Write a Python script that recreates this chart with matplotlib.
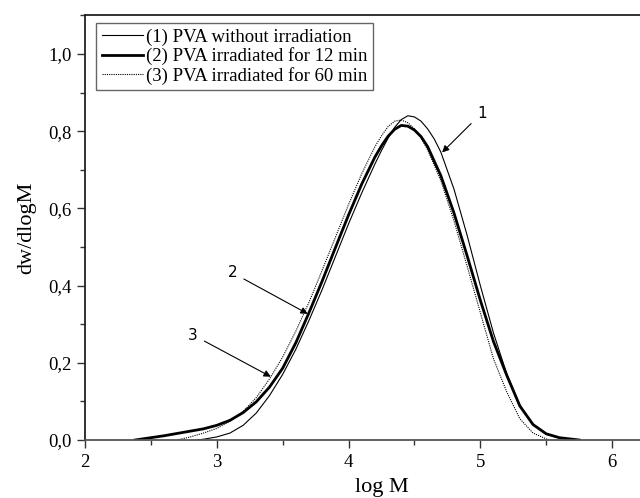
import matplotlib
matplotlib.use('Agg')
import matplotlib.pyplot as plt
from matplotlib.ticker import MultipleLocator, FuncFormatter

# ---- data (log M vs dw/dlogM) ----

# (1) PVA without irradiation
logm_1 = [2.85, 2.9, 3.0, 3.1, 3.2, 3.3, 3.4, 3.5, 3.6, 3.7, 3.8, 3.9, 4.0, 4.1,
          4.2, 4.25, 4.3, 4.35, 4.4, 4.45, 4.5, 4.55, 4.6, 4.65, 4.7, 4.8,
          4.9, 5.0, 5.1, 5.2, 5.3, 5.4, 5.5, 5.6, 5.72]
dw_1 = [0.0, 0.002, 0.008, 0.018, 0.038, 0.070, 0.115, 0.170, 0.235, 0.310,
        0.390, 0.475, 0.560, 0.640, 0.715, 0.750, 0.782, 0.810, 0.830, 0.840,
        0.837, 0.826, 0.806, 0.780, 0.746, 0.650, 0.530, 0.400, 0.277, 0.172,
        0.090, 0.040, 0.015, 0.005, 0.0]

# (2) PVA irradiated for 12 min
logm_2 = [2.38, 2.5, 2.6, 2.7, 2.8, 2.9, 3.0, 3.1, 3.2, 3.3, 3.4, 3.5, 3.6,
          3.7, 3.8, 3.9, 4.0, 4.1, 4.2, 4.25, 4.3, 4.35, 4.4, 4.45, 4.5, 4.55,
          4.6, 4.7, 4.8, 4.9, 5.0, 5.1, 5.2, 5.3, 5.4, 5.5, 5.6, 5.75]
dw_2 = [0.0, 0.006, 0.011, 0.017, 0.023, 0.029, 0.038, 0.051, 0.071, 0.099,
        0.137, 0.186, 0.252, 0.330, 0.412, 0.498, 0.583, 0.663, 0.733, 0.762,
        0.787, 0.805, 0.815, 0.813, 0.803, 0.786, 0.760, 0.685, 0.588, 0.477,
        0.362, 0.255, 0.168, 0.088, 0.040, 0.016, 0.006, 0.0]

# (3) PVA irradiated for 60 min
logm_3 = [2.7, 2.8, 2.9, 3.0, 3.1, 3.2, 3.3, 3.4, 3.5, 3.6, 3.7, 3.8, 3.9,
          4.0, 4.1, 4.2, 4.25, 4.3, 4.35, 4.4, 4.45, 4.5, 4.55, 4.6, 4.7, 4.8,
          4.9, 5.0, 5.1, 5.2, 5.3, 5.4, 5.52]
dw_3 = [0.0, 0.008, 0.018, 0.030, 0.048, 0.074, 0.110, 0.158, 0.215, 0.282,
        0.357, 0.440, 0.525, 0.610, 0.690, 0.760, 0.788, 0.812, 0.826, 0.829,
        0.822, 0.806, 0.783, 0.752, 0.672, 0.568, 0.450, 0.330, 0.210, 0.125,
        0.055, 0.018, 0.0]

series_labels = ['(1) PVA without irradiation',
                 '(2) PVA irradiated for 12 min',
                 '(3) PVA irradiated for 60 min']

# arrow annotations: label, arrow tip, label centre (data units)
arrow_labels = ['1', '2', '3']
arrow_tips = [(4.71, 0.745), (3.69, 0.327), (3.41, 0.164)]
arrow_text = [(5.01, 0.847), (3.12, 0.433), (2.82, 0.272)]

plt.rcParams['font.family'] = ['Liberation Serif', 'DejaVu Serif']

fig = plt.figure(figsize=(6.4, 4.98), dpi=100)
ax = fig.add_axes([85 / 640, 1 - 440 / 498, 593 / 640, 424.6 / 498])

ax.plot(logm_1, dw_1, color='black', lw=0.8, label=series_labels[0])
ax.plot(logm_2, dw_2, color='black', lw=2.0, label=series_labels[1])
ax.plot(logm_3, dw_3, color='black', lw=0.8, ls=(0, (1, 1)),
        label=series_labels[2])

for lab, tip, txt in zip(arrow_labels, arrow_tips, arrow_text):
    ax.annotate(lab, xy=tip, xytext=txt, family='DejaVu Sans', fontsize=11,
                ha='center', va='center',
                arrowprops=dict(arrowstyle='-|>', color='black', lw=0.8,
                                mutation_scale=10, shrinkA=3, shrinkB=0))

ax.set_xlim(2, 6.5)
ax.set_ylim(0, 1.1)
ax.xaxis.set_major_locator(MultipleLocator(1))
ax.xaxis.set_minor_locator(MultipleLocator(0.5))
ax.yaxis.set_major_locator(MultipleLocator(0.2))
ax.yaxis.set_minor_locator(MultipleLocator(0.1))
ax.yaxis.set_major_formatter(FuncFormatter(lambda v, p: f'{v:.1f}'.replace('.', ',')))
ax.tick_params(which='major', direction='out', length=6, width=1.0,
               labelsize=13.5, color='#333333')
ax.tick_params(which='minor', direction='out', length=3.5, width=1.0,
               color='#333333')
ax.tick_params(axis='x', pad=4)

for s in ax.spines.values():
    s.set_linewidth(1.3)
    s.set_color('#222222')
ax.spines['bottom'].set_color('#555555')

ax.set_xlabel('log M', fontsize=16, labelpad=5)
ax.set_ylabel('dw/dlogM', fontsize=16, labelpad=9)

leg = ax.legend(loc='upper left', bbox_to_anchor=(96 / 640, 1 - 23 / 498),
                bbox_transform=fig.transFigure, fontsize=13.5, frameon=True,
                fancybox=False, framealpha=1, handlelength=2.2,
                handletextpad=0.15, borderpad=0.3, labelspacing=0.08,
                borderaxespad=0)
leg.get_frame().set_edgecolor('#666666')
leg.get_frame().set_linewidth(1.0)

fig.savefig('out.png', dpi=100)
